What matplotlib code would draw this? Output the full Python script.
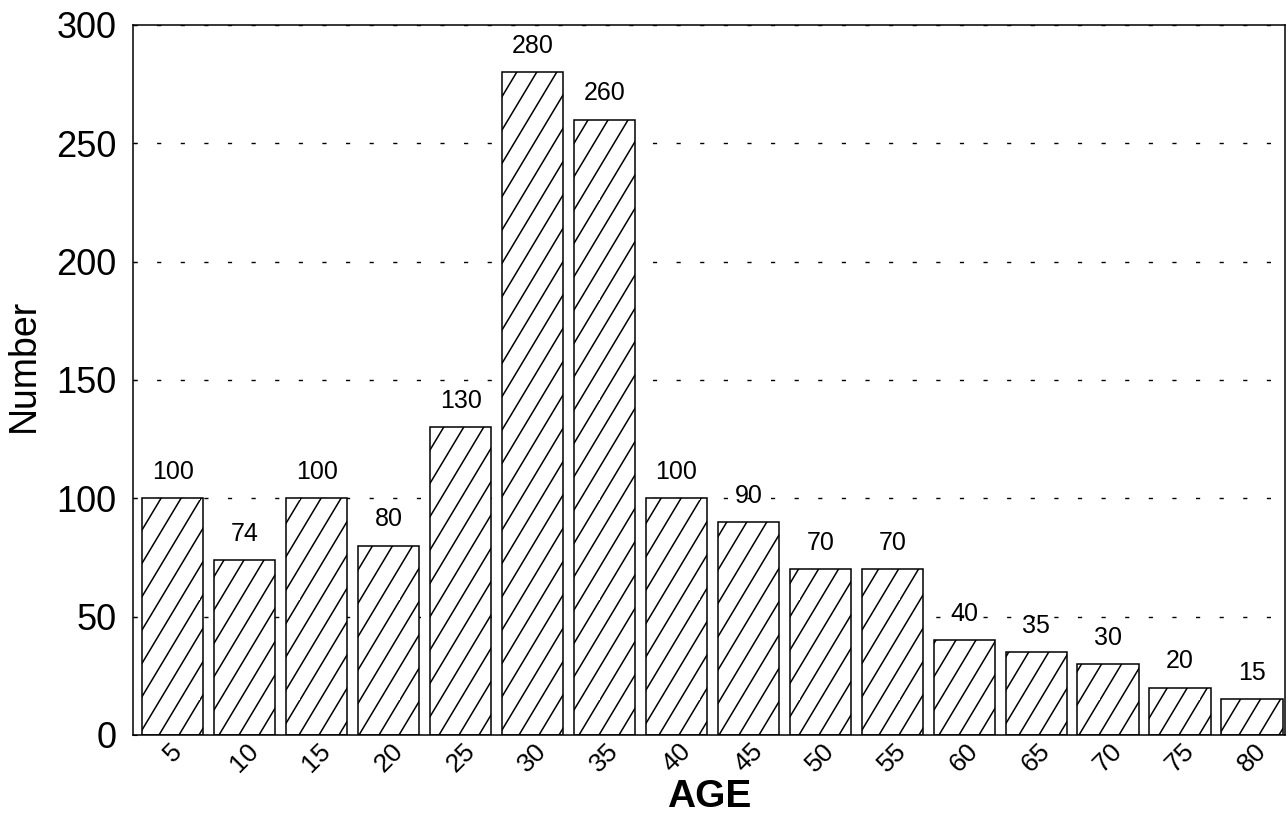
import numpy as np
import matplotlib
matplotlib.use('Agg')
import matplotlib.pyplot as plt
import matplotlib.hatch as mhatch
from matplotlib.path import Path

# data
ages = ['5', '10', '15', '20', '25', '30', '35', '40',
        '45', '50', '55', '60', '65', '70', '75', '80']
counts = [100, 74, 100, 80, 130, 280, 260, 100,
          90, 70, 70, 40, 35, 30, 20, 15]
yticks = [0, 50, 100, 150, 200, 250, 300]


# steeper '/' hatch (about 60 deg) like the scanned original
class SteepHatch(mhatch.HatchPatternBase):
    def __init__(self, hatch, density):
        self.num_lines = 8 if '/' in hatch else 0
        self.num_vertices = self.num_lines * 2

    def set_vertices_and_codes(self, vertices, codes):
        x0 = np.arange(-3, 5) * 0.2
        vertices[0::2, 0] = x0
        vertices[0::2, 1] = 0.0
        vertices[1::2, 0] = x0 + 0.6
        vertices[1::2, 1] = 1.0
        codes[0::2] = Path.MOVETO
        codes[1::2] = Path.LINETO


mhatch._hatch_types = [SteepHatch if t is mhatch.NorthEastHatch else t
                       for t in mhatch._hatch_types]

plt.rcParams['font.family'] = ['Liberation Sans', 'DejaVu Sans']
plt.rcParams['hatch.linewidth'] = 1.1
plt.rcParams['hatch.color'] = 'black'

fig = plt.figure(figsize=(12.88, 8.32), dpi=100)
ax = fig.add_axes([0.1033, 0.1166, 0.8944, 0.8534])

x = np.arange(len(ages))
bars = ax.bar(x, counts, width=0.85, color='white', edgecolor='black',
              linewidth=1.1, hatch='/', zorder=2)

for xi, c in zip(x, counts):
    ax.text(xi, c + 6, str(c), ha='center', va='bottom', fontsize=18)

ax.set_xlim(-0.553, 15.46)
ax.set_ylim(0, 300)
ax.set_yticks(yticks)
ax.set_xticks(x)
ax.set_xticklabels(ages, rotation=45, ha='center', fontsize=19)
ax.tick_params(axis='x', length=0, pad=3)
ax.tick_params(axis='y', direction='in', length=3, labelsize=26, pad=12)

ax.set_axisbelow(True)
ax.yaxis.grid(True, color='black', linewidth=1.0, linestyle=(0, (3, 14)))

for s in ax.spines.values():
    s.set_linewidth(1.1)

ax.set_ylabel('Number', fontsize=27)
ax.yaxis.set_label_coords(-0.079, 0.52)
ax.set_xlabel('AGE', fontsize=28, fontweight='bold')
ax.xaxis.set_label_coords(0.5, -0.062)

fig.savefig('out.png', dpi=100)
